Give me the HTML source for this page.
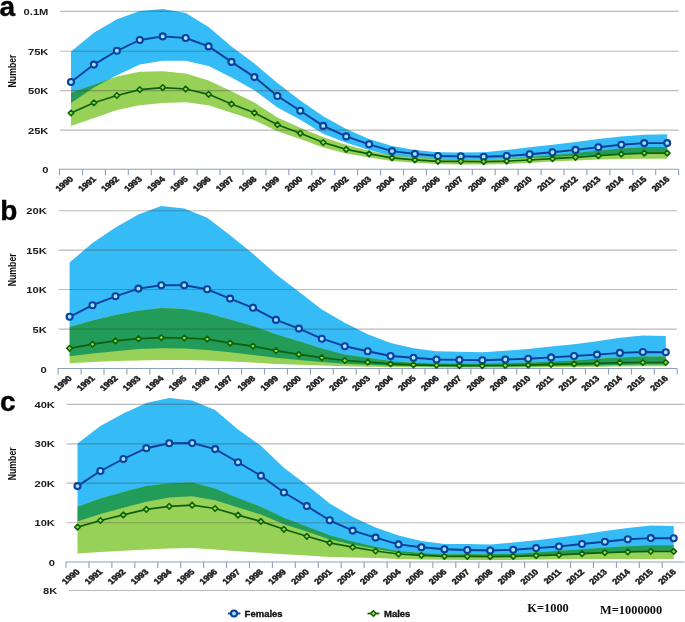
<!DOCTYPE html>
<html><head><meta charset="utf-8"><title>chart</title>
<style>
html,body{margin:0;padding:0;background:#fff;}
body{width:685px;height:622px;overflow:hidden;font-family:"Liberation Sans",sans-serif;}
svg{display:block;font-family:"Liberation Sans",sans-serif;}
.yl{font-size:9.8px;font-weight:bold;fill:#1c1c1c;text-anchor:end;}
.xl{font-size:7.8px;fill:#1a1a1a;text-anchor:end;font-weight:bold;stroke:#1a1a1a;stroke-width:0.45px;}
.num{font-size:10px;font-weight:bold;fill:#111;text-anchor:middle;}
.pl{font-size:28px;font-weight:bold;fill:#000;stroke:#000;stroke-width:0.4px;}
.lg{font-size:9.5px;font-weight:bold;fill:#0a0a0a;stroke:#0a0a0a;stroke-width:0.3px;}
.ser{font-family:"Liberation Serif",serif;font-size:12.4px;font-weight:bold;fill:#111;}
</style></head><body>
<svg width="685" height="622" viewBox="0 0 685 622">
<defs><filter id="bl" x="-2%" y="-2%" width="104%" height="104%"><feGaussianBlur stdDeviation="0.5"/></filter></defs>
<rect width="685" height="622" fill="#fff"/>
<g filter="url(#bl)">
<!-- panel a -->
<clipPath id="cpa"><polygon points="71.0,51.5 93.9,32.8 116.9,19.3 139.8,11.0 162.7,9.0 185.7,13.0 208.6,27.0 231.5,46.5 254.4,63.6 277.4,82.9 300.3,100.5 323.2,116.3 346.2,129.0 369.1,138.9 392.0,145.9 414.9,149.9 437.9,152.2 460.8,152.5 483.7,152.2 506.7,149.9 529.6,147.3 552.5,144.7 575.5,142.0 598.4,138.9 621.3,136.4 644.2,134.7 667.2,134.2 667.2,152.5 644.2,152.5 621.3,153.5 598.4,155.0 575.5,156.0 552.5,157.0 529.6,158.0 506.7,159.0 483.7,159.5 460.8,159.5 437.9,159.2 414.9,157.4 392.0,155.7 369.1,149.9 346.2,142.7 323.2,133.8 300.3,119.8 277.4,107.4 254.4,90.2 231.5,77.5 208.6,65.9 185.7,60.8 162.7,60.8 139.8,64.6 116.9,75.3 93.9,87.6 71.0,103.0"/></clipPath>
<polygon points="71.0,51.5 93.9,32.8 116.9,19.3 139.8,11.0 162.7,9.0 185.7,13.0 208.6,27.0 231.5,46.5 254.4,63.6 277.4,82.9 300.3,100.5 323.2,116.3 346.2,129.0 369.1,138.9 392.0,145.9 414.9,149.9 437.9,152.2 460.8,152.5 483.7,152.2 506.7,149.9 529.6,147.3 552.5,144.7 575.5,142.0 598.4,138.9 621.3,136.4 644.2,134.7 667.2,134.2 667.2,152.5 644.2,152.5 621.3,153.5 598.4,155.0 575.5,156.0 552.5,157.0 529.6,158.0 506.7,159.0 483.7,159.5 460.8,159.5 437.9,159.2 414.9,157.4 392.0,155.7 369.1,149.9 346.2,142.7 323.2,133.8 300.3,119.8 277.4,107.4 254.4,90.2 231.5,77.5 208.6,65.9 185.7,60.8 162.7,60.8 139.8,64.6 116.9,75.3 93.9,87.6 71.0,103.0" fill="#35bbf5"/>
<polygon points="71.0,92.8 93.9,84.7 116.9,76.5 139.8,71.8 162.7,71.2 185.7,73.5 208.6,80.6 231.5,91.2 254.4,102.6 277.4,117.5 300.3,127.7 323.2,137.3 346.2,144.7 369.1,150.8 392.0,155.2 414.9,157.4 437.9,158.7 460.8,159.2 483.7,159.2 506.7,158.7 529.6,157.2 552.5,155.0 575.5,153.0 598.4,150.5 621.3,148.5 644.2,147.0 667.2,147.0 667.2,158.7 644.2,158.7 621.3,159.0 598.4,159.6 575.5,160.4 552.5,161.6 529.6,163.0 506.7,163.9 483.7,164.4 460.8,164.4 437.9,163.9 414.9,162.7 392.0,160.9 369.1,157.4 346.2,153.4 323.2,147.4 300.3,139.0 277.4,131.2 254.4,120.3 231.5,112.7 208.6,105.3 185.7,102.3 162.7,103.0 139.8,105.3 116.9,110.0 93.9,118.0 71.0,126.0" fill="#98d158"/>
<polygon points="71.0,92.8 93.9,84.7 116.9,76.5 139.8,71.8 162.7,71.2 185.7,73.5 208.6,80.6 231.5,91.2 254.4,102.6 277.4,117.5 300.3,127.7 323.2,137.3 346.2,144.7 369.1,150.8 392.0,155.2 414.9,157.4 437.9,158.7 460.8,159.2 483.7,159.2 506.7,158.7 529.6,157.2 552.5,155.0 575.5,153.0 598.4,150.5 621.3,148.5 644.2,147.0 667.2,147.0 667.2,158.7 644.2,158.7 621.3,159.0 598.4,159.6 575.5,160.4 552.5,161.6 529.6,163.0 506.7,163.9 483.7,164.4 460.8,164.4 437.9,163.9 414.9,162.7 392.0,160.9 369.1,157.4 346.2,153.4 323.2,147.4 300.3,139.0 277.4,131.2 254.4,120.3 231.5,112.7 208.6,105.3 185.7,102.3 162.7,103.0 139.8,105.3 116.9,110.0 93.9,118.0 71.0,126.0" fill="#229c58" clip-path="url(#cpa)"/>
<line x1="60.1" x2="678.5" y1="11.4" y2="11.4" stroke="#4a4040" stroke-opacity="0.36" stroke-width="1.1"/>
<text class="yl" transform="translate(48.4,14.8) scale(1.14,1)">0.1M</text>
<line x1="60.1" x2="678.5" y1="51.3" y2="51.3" stroke="#4a4040" stroke-opacity="0.36" stroke-width="1.1"/>
<text class="yl" transform="translate(48.4,54.7) scale(1.14,1)">75K</text>
<line x1="60.1" x2="678.5" y1="90.6" y2="90.6" stroke="#4a4040" stroke-opacity="0.36" stroke-width="1.1"/>
<text class="yl" transform="translate(48.4,94.0) scale(1.14,1)">50K</text>
<line x1="60.1" x2="678.5" y1="130.1" y2="130.1" stroke="#4a4040" stroke-opacity="0.36" stroke-width="1.1"/>
<text class="yl" transform="translate(48.4,133.5) scale(1.14,1)">25K</text>
<text class="yl" transform="translate(48.4,173.2) scale(1.14,1)">0</text>
<line x1="59.0" x2="678.5" y1="169.2" y2="169.2" stroke="#8c9fbb" stroke-width="1.1"/>
<line x1="59.5" x2="59.5" y1="169.2" y2="175.2" stroke="#8c9fbb" stroke-width="1.1"/>
<line x1="82.5" x2="82.5" y1="169.2" y2="175.2" stroke="#8c9fbb" stroke-width="1.1"/>
<line x1="105.4" x2="105.4" y1="169.2" y2="175.2" stroke="#8c9fbb" stroke-width="1.1"/>
<line x1="128.3" x2="128.3" y1="169.2" y2="175.2" stroke="#8c9fbb" stroke-width="1.1"/>
<line x1="151.3" x2="151.3" y1="169.2" y2="175.2" stroke="#8c9fbb" stroke-width="1.1"/>
<line x1="174.2" x2="174.2" y1="169.2" y2="175.2" stroke="#8c9fbb" stroke-width="1.1"/>
<line x1="197.1" x2="197.1" y1="169.2" y2="175.2" stroke="#8c9fbb" stroke-width="1.1"/>
<line x1="220.0" x2="220.0" y1="169.2" y2="175.2" stroke="#8c9fbb" stroke-width="1.1"/>
<line x1="243.0" x2="243.0" y1="169.2" y2="175.2" stroke="#8c9fbb" stroke-width="1.1"/>
<line x1="265.9" x2="265.9" y1="169.2" y2="175.2" stroke="#8c9fbb" stroke-width="1.1"/>
<line x1="288.8" x2="288.8" y1="169.2" y2="175.2" stroke="#8c9fbb" stroke-width="1.1"/>
<line x1="311.8" x2="311.8" y1="169.2" y2="175.2" stroke="#8c9fbb" stroke-width="1.1"/>
<line x1="334.7" x2="334.7" y1="169.2" y2="175.2" stroke="#8c9fbb" stroke-width="1.1"/>
<line x1="357.6" x2="357.6" y1="169.2" y2="175.2" stroke="#8c9fbb" stroke-width="1.1"/>
<line x1="380.6" x2="380.6" y1="169.2" y2="175.2" stroke="#8c9fbb" stroke-width="1.1"/>
<line x1="403.5" x2="403.5" y1="169.2" y2="175.2" stroke="#8c9fbb" stroke-width="1.1"/>
<line x1="426.4" x2="426.4" y1="169.2" y2="175.2" stroke="#8c9fbb" stroke-width="1.1"/>
<line x1="449.3" x2="449.3" y1="169.2" y2="175.2" stroke="#8c9fbb" stroke-width="1.1"/>
<line x1="472.3" x2="472.3" y1="169.2" y2="175.2" stroke="#8c9fbb" stroke-width="1.1"/>
<line x1="495.2" x2="495.2" y1="169.2" y2="175.2" stroke="#8c9fbb" stroke-width="1.1"/>
<line x1="518.1" x2="518.1" y1="169.2" y2="175.2" stroke="#8c9fbb" stroke-width="1.1"/>
<line x1="541.1" x2="541.1" y1="169.2" y2="175.2" stroke="#8c9fbb" stroke-width="1.1"/>
<line x1="564.0" x2="564.0" y1="169.2" y2="175.2" stroke="#8c9fbb" stroke-width="1.1"/>
<line x1="586.9" x2="586.9" y1="169.2" y2="175.2" stroke="#8c9fbb" stroke-width="1.1"/>
<line x1="609.9" x2="609.9" y1="169.2" y2="175.2" stroke="#8c9fbb" stroke-width="1.1"/>
<line x1="632.8" x2="632.8" y1="169.2" y2="175.2" stroke="#8c9fbb" stroke-width="1.1"/>
<line x1="655.7" x2="655.7" y1="169.2" y2="175.2" stroke="#8c9fbb" stroke-width="1.1"/>
<line x1="678.6" x2="678.6" y1="169.2" y2="175.2" stroke="#8c9fbb" stroke-width="1.1"/>
<text class="xl" transform="translate(73.9,179.6) scale(1.2,1) rotate(-45)">1990</text>
<text class="xl" transform="translate(96.8,179.6) scale(1.2,1) rotate(-45)">1991</text>
<text class="xl" transform="translate(119.8,179.6) scale(1.2,1) rotate(-45)">1992</text>
<text class="xl" transform="translate(142.7,179.6) scale(1.2,1) rotate(-45)">1993</text>
<text class="xl" transform="translate(165.6,179.6) scale(1.2,1) rotate(-45)">1994</text>
<text class="xl" transform="translate(188.6,179.6) scale(1.2,1) rotate(-45)">1995</text>
<text class="xl" transform="translate(211.5,179.6) scale(1.2,1) rotate(-45)">1996</text>
<text class="xl" transform="translate(234.4,179.6) scale(1.2,1) rotate(-45)">1997</text>
<text class="xl" transform="translate(257.3,179.6) scale(1.2,1) rotate(-45)">1998</text>
<text class="xl" transform="translate(280.3,179.6) scale(1.2,1) rotate(-45)">1999</text>
<text class="xl" transform="translate(303.2,179.6) scale(1.2,1) rotate(-45)">2000</text>
<text class="xl" transform="translate(326.1,179.6) scale(1.2,1) rotate(-45)">2001</text>
<text class="xl" transform="translate(349.1,179.6) scale(1.2,1) rotate(-45)">2002</text>
<text class="xl" transform="translate(372.0,179.6) scale(1.2,1) rotate(-45)">2003</text>
<text class="xl" transform="translate(394.9,179.6) scale(1.2,1) rotate(-45)">2004</text>
<text class="xl" transform="translate(417.8,179.6) scale(1.2,1) rotate(-45)">2005</text>
<text class="xl" transform="translate(440.8,179.6) scale(1.2,1) rotate(-45)">2006</text>
<text class="xl" transform="translate(463.7,179.6) scale(1.2,1) rotate(-45)">2007</text>
<text class="xl" transform="translate(486.6,179.6) scale(1.2,1) rotate(-45)">2008</text>
<text class="xl" transform="translate(509.6,179.6) scale(1.2,1) rotate(-45)">2009</text>
<text class="xl" transform="translate(532.5,179.6) scale(1.2,1) rotate(-45)">2010</text>
<text class="xl" transform="translate(555.4,179.6) scale(1.2,1) rotate(-45)">2011</text>
<text class="xl" transform="translate(578.4,179.6) scale(1.2,1) rotate(-45)">2012</text>
<text class="xl" transform="translate(601.3,179.6) scale(1.2,1) rotate(-45)">2013</text>
<text class="xl" transform="translate(624.2,179.6) scale(1.2,1) rotate(-45)">2014</text>
<text class="xl" transform="translate(647.1,179.6) scale(1.2,1) rotate(-45)">2015</text>
<text class="xl" transform="translate(670.1,179.6) scale(1.2,1) rotate(-45)">2016</text>
<polyline points="71.0,82.0 93.9,64.6 116.9,50.8 139.8,40.0 162.7,36.4 185.7,38.0 208.6,46.4 231.5,61.9 254.4,77.1 277.4,96.0 300.3,110.7 323.2,125.9 346.2,136.4 369.1,144.3 392.0,151.1 414.9,153.9 437.9,156.0 460.8,156.4 483.7,156.7 506.7,156.0 529.6,154.3 552.5,152.2 575.5,149.9 598.4,147.3 621.3,144.7 644.2,143.1 667.2,143.1" fill="none" stroke="#0a3f9c" stroke-width="1.9" stroke-linejoin="round"/>
<circle cx="71.0" cy="82.0" r="3.0" fill="#a0e8ff" stroke="#0a3f9c" stroke-width="2.1"/>
<circle cx="93.9" cy="64.6" r="3.0" fill="#a0e8ff" stroke="#0a3f9c" stroke-width="2.1"/>
<circle cx="116.9" cy="50.8" r="3.0" fill="#a0e8ff" stroke="#0a3f9c" stroke-width="2.1"/>
<circle cx="139.8" cy="40.0" r="3.0" fill="#a0e8ff" stroke="#0a3f9c" stroke-width="2.1"/>
<circle cx="162.7" cy="36.4" r="3.0" fill="#a0e8ff" stroke="#0a3f9c" stroke-width="2.1"/>
<circle cx="185.7" cy="38.0" r="3.0" fill="#a0e8ff" stroke="#0a3f9c" stroke-width="2.1"/>
<circle cx="208.6" cy="46.4" r="3.0" fill="#a0e8ff" stroke="#0a3f9c" stroke-width="2.1"/>
<circle cx="231.5" cy="61.9" r="3.0" fill="#a0e8ff" stroke="#0a3f9c" stroke-width="2.1"/>
<circle cx="254.4" cy="77.1" r="3.0" fill="#a0e8ff" stroke="#0a3f9c" stroke-width="2.1"/>
<circle cx="277.4" cy="96.0" r="3.0" fill="#a0e8ff" stroke="#0a3f9c" stroke-width="2.1"/>
<circle cx="300.3" cy="110.7" r="3.0" fill="#a0e8ff" stroke="#0a3f9c" stroke-width="2.1"/>
<circle cx="323.2" cy="125.9" r="3.0" fill="#a0e8ff" stroke="#0a3f9c" stroke-width="2.1"/>
<circle cx="346.2" cy="136.4" r="3.0" fill="#a0e8ff" stroke="#0a3f9c" stroke-width="2.1"/>
<circle cx="369.1" cy="144.3" r="3.0" fill="#a0e8ff" stroke="#0a3f9c" stroke-width="2.1"/>
<circle cx="392.0" cy="151.1" r="3.0" fill="#a0e8ff" stroke="#0a3f9c" stroke-width="2.1"/>
<circle cx="414.9" cy="153.9" r="3.0" fill="#a0e8ff" stroke="#0a3f9c" stroke-width="2.1"/>
<circle cx="437.9" cy="156.0" r="3.0" fill="#a0e8ff" stroke="#0a3f9c" stroke-width="2.1"/>
<circle cx="460.8" cy="156.4" r="3.0" fill="#a0e8ff" stroke="#0a3f9c" stroke-width="2.1"/>
<circle cx="483.7" cy="156.7" r="3.0" fill="#a0e8ff" stroke="#0a3f9c" stroke-width="2.1"/>
<circle cx="506.7" cy="156.0" r="3.0" fill="#a0e8ff" stroke="#0a3f9c" stroke-width="2.1"/>
<circle cx="529.6" cy="154.3" r="3.0" fill="#a0e8ff" stroke="#0a3f9c" stroke-width="2.1"/>
<circle cx="552.5" cy="152.2" r="3.0" fill="#a0e8ff" stroke="#0a3f9c" stroke-width="2.1"/>
<circle cx="575.5" cy="149.9" r="3.0" fill="#a0e8ff" stroke="#0a3f9c" stroke-width="2.1"/>
<circle cx="598.4" cy="147.3" r="3.0" fill="#a0e8ff" stroke="#0a3f9c" stroke-width="2.1"/>
<circle cx="621.3" cy="144.7" r="3.0" fill="#a0e8ff" stroke="#0a3f9c" stroke-width="2.1"/>
<circle cx="644.2" cy="143.1" r="3.0" fill="#a0e8ff" stroke="#0a3f9c" stroke-width="2.1"/>
<circle cx="667.2" cy="143.1" r="3.0" fill="#a0e8ff" stroke="#0a3f9c" stroke-width="2.1"/>
<polyline points="71.0,113.0 93.9,102.8 116.9,95.5 139.8,89.6 162.7,87.6 185.7,89.0 208.6,94.3 231.5,104.0 254.4,112.8 277.4,124.7 300.3,133.3 323.2,142.5 346.2,149.4 369.1,153.9 392.0,157.8 414.9,159.9 437.9,161.3 460.8,161.3 483.7,161.6 506.7,161.1 529.6,160.0 552.5,158.7 575.5,157.3 598.4,155.7 621.3,154.1 644.2,153.1 667.2,153.1" fill="none" stroke="#10600a" stroke-width="1.7" stroke-linejoin="round"/>
<polygon points="68.2,113.0 71.0,110.2 73.8,113.0 71.0,115.8" fill="#8fe238" stroke="#10600a" stroke-width="1.6" stroke-linejoin="round"/>
<polygon points="91.1,102.8 93.9,100.0 96.7,102.8 93.9,105.6" fill="#8fe238" stroke="#10600a" stroke-width="1.6" stroke-linejoin="round"/>
<polygon points="114.1,95.5 116.9,92.7 119.7,95.5 116.9,98.3" fill="#8fe238" stroke="#10600a" stroke-width="1.6" stroke-linejoin="round"/>
<polygon points="137.0,89.6 139.8,86.8 142.6,89.6 139.8,92.4" fill="#8fe238" stroke="#10600a" stroke-width="1.6" stroke-linejoin="round"/>
<polygon points="159.9,87.6 162.7,84.8 165.5,87.6 162.7,90.4" fill="#8fe238" stroke="#10600a" stroke-width="1.6" stroke-linejoin="round"/>
<polygon points="182.8,89.0 185.7,86.2 188.5,89.0 185.7,91.8" fill="#8fe238" stroke="#10600a" stroke-width="1.6" stroke-linejoin="round"/>
<polygon points="205.8,94.3 208.6,91.5 211.4,94.3 208.6,97.1" fill="#8fe238" stroke="#10600a" stroke-width="1.6" stroke-linejoin="round"/>
<polygon points="228.7,104.0 231.5,101.2 234.3,104.0 231.5,106.8" fill="#8fe238" stroke="#10600a" stroke-width="1.6" stroke-linejoin="round"/>
<polygon points="251.6,112.8 254.4,110.0 257.2,112.8 254.4,115.6" fill="#8fe238" stroke="#10600a" stroke-width="1.6" stroke-linejoin="round"/>
<polygon points="274.6,124.7 277.4,121.9 280.2,124.7 277.4,127.5" fill="#8fe238" stroke="#10600a" stroke-width="1.6" stroke-linejoin="round"/>
<polygon points="297.5,133.3 300.3,130.5 303.1,133.3 300.3,136.1" fill="#8fe238" stroke="#10600a" stroke-width="1.6" stroke-linejoin="round"/>
<polygon points="320.4,142.5 323.2,139.7 326.0,142.5 323.2,145.3" fill="#8fe238" stroke="#10600a" stroke-width="1.6" stroke-linejoin="round"/>
<polygon points="343.4,149.4 346.2,146.6 349.0,149.4 346.2,152.2" fill="#8fe238" stroke="#10600a" stroke-width="1.6" stroke-linejoin="round"/>
<polygon points="366.3,153.9 369.1,151.1 371.9,153.9 369.1,156.7" fill="#8fe238" stroke="#10600a" stroke-width="1.6" stroke-linejoin="round"/>
<polygon points="389.2,157.8 392.0,155.0 394.8,157.8 392.0,160.6" fill="#8fe238" stroke="#10600a" stroke-width="1.6" stroke-linejoin="round"/>
<polygon points="412.1,159.9 414.9,157.1 417.8,159.9 414.9,162.7" fill="#8fe238" stroke="#10600a" stroke-width="1.6" stroke-linejoin="round"/>
<polygon points="435.1,161.3 437.9,158.5 440.7,161.3 437.9,164.1" fill="#8fe238" stroke="#10600a" stroke-width="1.6" stroke-linejoin="round"/>
<polygon points="458.0,161.3 460.8,158.5 463.6,161.3 460.8,164.1" fill="#8fe238" stroke="#10600a" stroke-width="1.6" stroke-linejoin="round"/>
<polygon points="480.9,161.6 483.7,158.8 486.5,161.6 483.7,164.4" fill="#8fe238" stroke="#10600a" stroke-width="1.6" stroke-linejoin="round"/>
<polygon points="503.9,161.1 506.7,158.3 509.5,161.1 506.7,163.9" fill="#8fe238" stroke="#10600a" stroke-width="1.6" stroke-linejoin="round"/>
<polygon points="526.8,160.0 529.6,157.2 532.4,160.0 529.6,162.8" fill="#8fe238" stroke="#10600a" stroke-width="1.6" stroke-linejoin="round"/>
<polygon points="549.7,158.7 552.5,155.9 555.3,158.7 552.5,161.5" fill="#8fe238" stroke="#10600a" stroke-width="1.6" stroke-linejoin="round"/>
<polygon points="572.7,157.3 575.5,154.5 578.3,157.3 575.5,160.1" fill="#8fe238" stroke="#10600a" stroke-width="1.6" stroke-linejoin="round"/>
<polygon points="595.6,155.7 598.4,152.9 601.2,155.7 598.4,158.5" fill="#8fe238" stroke="#10600a" stroke-width="1.6" stroke-linejoin="round"/>
<polygon points="618.5,154.1 621.3,151.3 624.1,154.1 621.3,156.9" fill="#8fe238" stroke="#10600a" stroke-width="1.6" stroke-linejoin="round"/>
<polygon points="641.5,153.1 644.2,150.3 647.0,153.1 644.2,155.9" fill="#8fe238" stroke="#10600a" stroke-width="1.6" stroke-linejoin="round"/>
<polygon points="664.4,153.1 667.2,150.3 670.0,153.1 667.2,155.9" fill="#8fe238" stroke="#10600a" stroke-width="1.6" stroke-linejoin="round"/>
<text class="pl" x="-0.5" y="16.2">a</text>
<text class="num" transform="translate(15.6,71) rotate(-90) scale(0.87,1)">Number</text>
<!-- panel b -->
<clipPath id="cpb"><polygon points="69.6,262.6 92.5,242.9 115.5,227.6 138.4,214.4 161.3,206.1 184.2,208.5 207.2,217.7 230.1,235.2 253.0,253.8 276.0,274.2 298.9,291.8 321.8,309.6 344.8,322.8 367.7,334.2 390.6,342.9 413.5,348.2 436.5,351.3 459.4,351.7 482.3,352.2 505.3,350.8 528.2,349.0 551.1,346.4 574.1,344.3 597.0,341.2 619.9,337.7 642.9,335.6 665.8,335.9 665.8,364.4 642.9,364.6 619.9,365.0 597.0,365.4 574.1,365.7 551.1,366.0 528.2,366.3 505.3,366.5 482.3,366.5 459.4,366.5 436.5,366.5 413.5,366.2 390.6,365.7 367.7,364.8 344.8,363.8 321.8,362.1 298.9,359.9 276.0,357.7 253.0,354.9 230.1,352.3 207.2,350.0 184.2,348.5 161.3,348.3 138.4,349.0 115.5,351.2 92.5,353.4 69.6,356.2"/></clipPath>
<polygon points="69.6,262.6 92.5,242.9 115.5,227.6 138.4,214.4 161.3,206.1 184.2,208.5 207.2,217.7 230.1,235.2 253.0,253.8 276.0,274.2 298.9,291.8 321.8,309.6 344.8,322.8 367.7,334.2 390.6,342.9 413.5,348.2 436.5,351.3 459.4,351.7 482.3,352.2 505.3,350.8 528.2,349.0 551.1,346.4 574.1,344.3 597.0,341.2 619.9,337.7 642.9,335.6 665.8,335.9 665.8,364.4 642.9,364.6 619.9,365.0 597.0,365.4 574.1,365.7 551.1,366.0 528.2,366.3 505.3,366.5 482.3,366.5 459.4,366.5 436.5,366.5 413.5,366.2 390.6,365.7 367.7,364.8 344.8,363.8 321.8,362.1 298.9,359.9 276.0,357.7 253.0,354.9 230.1,352.3 207.2,350.0 184.2,348.5 161.3,348.3 138.4,349.0 115.5,351.2 92.5,353.4 69.6,356.2" fill="#35bbf5"/>
<polygon points="69.6,327.1 92.5,320.5 115.5,315.0 138.4,310.7 161.3,308.0 184.2,309.1 207.2,313.3 230.1,319.4 253.0,326.0 276.0,334.3 298.9,341.3 321.8,348.5 344.8,354.4 367.7,357.8 390.6,361.0 413.5,362.7 436.5,363.4 459.4,363.4 482.3,363.4 505.3,363.2 528.2,362.6 551.1,361.6 574.1,360.4 597.0,358.7 619.9,357.4 642.9,356.4 665.8,356.4 665.8,366.2 642.9,366.3 619.9,366.5 597.0,366.7 574.1,366.9 551.1,367.3 528.2,367.6 505.3,367.8 482.3,367.8 459.4,367.8 436.5,367.6 413.5,367.3 390.6,367.0 367.7,366.7 344.8,366.3 321.8,365.6 298.9,364.7 276.0,363.9 253.0,362.5 230.1,361.5 207.2,360.6 184.2,359.9 161.3,359.9 138.4,360.4 115.5,361.0 92.5,362.1 69.6,363.2" fill="#98d158"/>
<polygon points="69.6,327.1 92.5,320.5 115.5,315.0 138.4,310.7 161.3,308.0 184.2,309.1 207.2,313.3 230.1,319.4 253.0,326.0 276.0,334.3 298.9,341.3 321.8,348.5 344.8,354.4 367.7,357.8 390.6,361.0 413.5,362.7 436.5,363.4 459.4,363.4 482.3,363.4 505.3,363.2 528.2,362.6 551.1,361.6 574.1,360.4 597.0,358.7 619.9,357.4 642.9,356.4 665.8,356.4 665.8,366.2 642.9,366.3 619.9,366.5 597.0,366.7 574.1,366.9 551.1,367.3 528.2,367.6 505.3,367.8 482.3,367.8 459.4,367.8 436.5,367.6 413.5,367.3 390.6,367.0 367.7,366.7 344.8,366.3 321.8,365.6 298.9,364.7 276.0,363.9 253.0,362.5 230.1,361.5 207.2,360.6 184.2,359.9 161.3,359.9 138.4,360.4 115.5,361.0 92.5,362.1 69.6,363.2" fill="#229c58" clip-path="url(#cpb)"/>
<line x1="58.5" x2="677" y1="210.7" y2="210.7" stroke="#4a4040" stroke-opacity="0.36" stroke-width="1.1"/>
<text class="yl" transform="translate(46.8,214.1) scale(1.14,1)">20K</text>
<line x1="58.5" x2="677" y1="250.1" y2="250.1" stroke="#4a4040" stroke-opacity="0.36" stroke-width="1.1"/>
<text class="yl" transform="translate(46.8,253.5) scale(1.14,1)">15K</text>
<line x1="58.5" x2="677" y1="289.5" y2="289.5" stroke="#4a4040" stroke-opacity="0.36" stroke-width="1.1"/>
<text class="yl" transform="translate(46.8,292.9) scale(1.14,1)">10K</text>
<line x1="58.5" x2="677" y1="329.1" y2="329.1" stroke="#4a4040" stroke-opacity="0.36" stroke-width="1.1"/>
<text class="yl" transform="translate(46.8,332.5) scale(1.14,1)">5K</text>
<text class="yl" transform="translate(46.8,372.5) scale(1.14,1)">0</text>
<line x1="57.6" x2="677" y1="368.5" y2="368.5" stroke="#8c9fbb" stroke-width="1.1"/>
<line x1="58.1" x2="58.1" y1="368.5" y2="374.5" stroke="#8c9fbb" stroke-width="1.1"/>
<line x1="81.1" x2="81.1" y1="368.5" y2="374.5" stroke="#8c9fbb" stroke-width="1.1"/>
<line x1="104.0" x2="104.0" y1="368.5" y2="374.5" stroke="#8c9fbb" stroke-width="1.1"/>
<line x1="126.9" x2="126.9" y1="368.5" y2="374.5" stroke="#8c9fbb" stroke-width="1.1"/>
<line x1="149.9" x2="149.9" y1="368.5" y2="374.5" stroke="#8c9fbb" stroke-width="1.1"/>
<line x1="172.8" x2="172.8" y1="368.5" y2="374.5" stroke="#8c9fbb" stroke-width="1.1"/>
<line x1="195.7" x2="195.7" y1="368.5" y2="374.5" stroke="#8c9fbb" stroke-width="1.1"/>
<line x1="218.6" x2="218.6" y1="368.5" y2="374.5" stroke="#8c9fbb" stroke-width="1.1"/>
<line x1="241.6" x2="241.6" y1="368.5" y2="374.5" stroke="#8c9fbb" stroke-width="1.1"/>
<line x1="264.5" x2="264.5" y1="368.5" y2="374.5" stroke="#8c9fbb" stroke-width="1.1"/>
<line x1="287.4" x2="287.4" y1="368.5" y2="374.5" stroke="#8c9fbb" stroke-width="1.1"/>
<line x1="310.4" x2="310.4" y1="368.5" y2="374.5" stroke="#8c9fbb" stroke-width="1.1"/>
<line x1="333.3" x2="333.3" y1="368.5" y2="374.5" stroke="#8c9fbb" stroke-width="1.1"/>
<line x1="356.2" x2="356.2" y1="368.5" y2="374.5" stroke="#8c9fbb" stroke-width="1.1"/>
<line x1="379.2" x2="379.2" y1="368.5" y2="374.5" stroke="#8c9fbb" stroke-width="1.1"/>
<line x1="402.1" x2="402.1" y1="368.5" y2="374.5" stroke="#8c9fbb" stroke-width="1.1"/>
<line x1="425.0" x2="425.0" y1="368.5" y2="374.5" stroke="#8c9fbb" stroke-width="1.1"/>
<line x1="447.9" x2="447.9" y1="368.5" y2="374.5" stroke="#8c9fbb" stroke-width="1.1"/>
<line x1="470.9" x2="470.9" y1="368.5" y2="374.5" stroke="#8c9fbb" stroke-width="1.1"/>
<line x1="493.8" x2="493.8" y1="368.5" y2="374.5" stroke="#8c9fbb" stroke-width="1.1"/>
<line x1="516.7" x2="516.7" y1="368.5" y2="374.5" stroke="#8c9fbb" stroke-width="1.1"/>
<line x1="539.7" x2="539.7" y1="368.5" y2="374.5" stroke="#8c9fbb" stroke-width="1.1"/>
<line x1="562.6" x2="562.6" y1="368.5" y2="374.5" stroke="#8c9fbb" stroke-width="1.1"/>
<line x1="585.5" x2="585.5" y1="368.5" y2="374.5" stroke="#8c9fbb" stroke-width="1.1"/>
<line x1="608.5" x2="608.5" y1="368.5" y2="374.5" stroke="#8c9fbb" stroke-width="1.1"/>
<line x1="631.4" x2="631.4" y1="368.5" y2="374.5" stroke="#8c9fbb" stroke-width="1.1"/>
<line x1="654.3" x2="654.3" y1="368.5" y2="374.5" stroke="#8c9fbb" stroke-width="1.1"/>
<line x1="677.2" x2="677.2" y1="368.5" y2="374.5" stroke="#8c9fbb" stroke-width="1.1"/>
<text class="xl" transform="translate(72.5,378.9) scale(1.2,1) rotate(-45)">1990</text>
<text class="xl" transform="translate(95.4,378.9) scale(1.2,1) rotate(-45)">1991</text>
<text class="xl" transform="translate(118.4,378.9) scale(1.2,1) rotate(-45)">1992</text>
<text class="xl" transform="translate(141.3,378.9) scale(1.2,1) rotate(-45)">1993</text>
<text class="xl" transform="translate(164.2,378.9) scale(1.2,1) rotate(-45)">1994</text>
<text class="xl" transform="translate(187.2,378.9) scale(1.2,1) rotate(-45)">1995</text>
<text class="xl" transform="translate(210.1,378.9) scale(1.2,1) rotate(-45)">1996</text>
<text class="xl" transform="translate(233.0,378.9) scale(1.2,1) rotate(-45)">1997</text>
<text class="xl" transform="translate(255.9,378.9) scale(1.2,1) rotate(-45)">1998</text>
<text class="xl" transform="translate(278.9,378.9) scale(1.2,1) rotate(-45)">1999</text>
<text class="xl" transform="translate(301.8,378.9) scale(1.2,1) rotate(-45)">2000</text>
<text class="xl" transform="translate(324.7,378.9) scale(1.2,1) rotate(-45)">2001</text>
<text class="xl" transform="translate(347.7,378.9) scale(1.2,1) rotate(-45)">2002</text>
<text class="xl" transform="translate(370.6,378.9) scale(1.2,1) rotate(-45)">2003</text>
<text class="xl" transform="translate(393.5,378.9) scale(1.2,1) rotate(-45)">2004</text>
<text class="xl" transform="translate(416.4,378.9) scale(1.2,1) rotate(-45)">2005</text>
<text class="xl" transform="translate(439.4,378.9) scale(1.2,1) rotate(-45)">2006</text>
<text class="xl" transform="translate(462.3,378.9) scale(1.2,1) rotate(-45)">2007</text>
<text class="xl" transform="translate(485.2,378.9) scale(1.2,1) rotate(-45)">2008</text>
<text class="xl" transform="translate(508.2,378.9) scale(1.2,1) rotate(-45)">2009</text>
<text class="xl" transform="translate(531.1,378.9) scale(1.2,1) rotate(-45)">2010</text>
<text class="xl" transform="translate(554.0,378.9) scale(1.2,1) rotate(-45)">2011</text>
<text class="xl" transform="translate(577.0,378.9) scale(1.2,1) rotate(-45)">2012</text>
<text class="xl" transform="translate(599.9,378.9) scale(1.2,1) rotate(-45)">2013</text>
<text class="xl" transform="translate(622.8,378.9) scale(1.2,1) rotate(-45)">2014</text>
<text class="xl" transform="translate(645.8,378.9) scale(1.2,1) rotate(-45)">2015</text>
<text class="xl" transform="translate(668.7,378.9) scale(1.2,1) rotate(-45)">2016</text>
<polyline points="69.6,316.8 92.5,305.2 115.5,296.3 138.4,288.6 161.3,285.2 184.2,285.2 207.2,289.3 230.1,298.6 253.0,307.8 276.0,319.9 298.9,328.6 321.8,338.7 344.8,346.2 367.7,351.3 390.6,356.0 413.5,357.8 436.5,359.5 459.4,359.9 482.3,360.2 505.3,359.5 528.2,358.7 551.1,357.4 574.1,356.0 597.0,354.6 619.9,352.9 642.9,352.0 665.8,352.2" fill="none" stroke="#0a3f9c" stroke-width="1.9" stroke-linejoin="round"/>
<circle cx="69.6" cy="316.8" r="3.0" fill="#a0e8ff" stroke="#0a3f9c" stroke-width="2.1"/>
<circle cx="92.5" cy="305.2" r="3.0" fill="#a0e8ff" stroke="#0a3f9c" stroke-width="2.1"/>
<circle cx="115.5" cy="296.3" r="3.0" fill="#a0e8ff" stroke="#0a3f9c" stroke-width="2.1"/>
<circle cx="138.4" cy="288.6" r="3.0" fill="#a0e8ff" stroke="#0a3f9c" stroke-width="2.1"/>
<circle cx="161.3" cy="285.2" r="3.0" fill="#a0e8ff" stroke="#0a3f9c" stroke-width="2.1"/>
<circle cx="184.2" cy="285.2" r="3.0" fill="#a0e8ff" stroke="#0a3f9c" stroke-width="2.1"/>
<circle cx="207.2" cy="289.3" r="3.0" fill="#a0e8ff" stroke="#0a3f9c" stroke-width="2.1"/>
<circle cx="230.1" cy="298.6" r="3.0" fill="#a0e8ff" stroke="#0a3f9c" stroke-width="2.1"/>
<circle cx="253.0" cy="307.8" r="3.0" fill="#a0e8ff" stroke="#0a3f9c" stroke-width="2.1"/>
<circle cx="276.0" cy="319.9" r="3.0" fill="#a0e8ff" stroke="#0a3f9c" stroke-width="2.1"/>
<circle cx="298.9" cy="328.6" r="3.0" fill="#a0e8ff" stroke="#0a3f9c" stroke-width="2.1"/>
<circle cx="321.8" cy="338.7" r="3.0" fill="#a0e8ff" stroke="#0a3f9c" stroke-width="2.1"/>
<circle cx="344.8" cy="346.2" r="3.0" fill="#a0e8ff" stroke="#0a3f9c" stroke-width="2.1"/>
<circle cx="367.7" cy="351.3" r="3.0" fill="#a0e8ff" stroke="#0a3f9c" stroke-width="2.1"/>
<circle cx="390.6" cy="356.0" r="3.0" fill="#a0e8ff" stroke="#0a3f9c" stroke-width="2.1"/>
<circle cx="413.5" cy="357.8" r="3.0" fill="#a0e8ff" stroke="#0a3f9c" stroke-width="2.1"/>
<circle cx="436.5" cy="359.5" r="3.0" fill="#a0e8ff" stroke="#0a3f9c" stroke-width="2.1"/>
<circle cx="459.4" cy="359.9" r="3.0" fill="#a0e8ff" stroke="#0a3f9c" stroke-width="2.1"/>
<circle cx="482.3" cy="360.2" r="3.0" fill="#a0e8ff" stroke="#0a3f9c" stroke-width="2.1"/>
<circle cx="505.3" cy="359.5" r="3.0" fill="#a0e8ff" stroke="#0a3f9c" stroke-width="2.1"/>
<circle cx="528.2" cy="358.7" r="3.0" fill="#a0e8ff" stroke="#0a3f9c" stroke-width="2.1"/>
<circle cx="551.1" cy="357.4" r="3.0" fill="#a0e8ff" stroke="#0a3f9c" stroke-width="2.1"/>
<circle cx="574.1" cy="356.0" r="3.0" fill="#a0e8ff" stroke="#0a3f9c" stroke-width="2.1"/>
<circle cx="597.0" cy="354.6" r="3.0" fill="#a0e8ff" stroke="#0a3f9c" stroke-width="2.1"/>
<circle cx="619.9" cy="352.9" r="3.0" fill="#a0e8ff" stroke="#0a3f9c" stroke-width="2.1"/>
<circle cx="642.9" cy="352.0" r="3.0" fill="#a0e8ff" stroke="#0a3f9c" stroke-width="2.1"/>
<circle cx="665.8" cy="352.2" r="3.0" fill="#a0e8ff" stroke="#0a3f9c" stroke-width="2.1"/>
<polyline points="69.6,348.3 92.5,344.2 115.5,340.9 138.4,338.7 161.3,337.6 184.2,338.0 207.2,339.1 230.1,343.1 253.0,346.1 276.0,350.7 298.9,354.4 321.8,357.7 344.8,360.5 367.7,362.2 390.6,363.9 413.5,364.8 436.5,365.3 459.4,365.7 482.3,365.7 505.3,365.5 528.2,365.1 551.1,364.4 574.1,363.9 597.0,363.4 619.9,362.7 642.9,362.5 665.8,362.5" fill="none" stroke="#10600a" stroke-width="1.7" stroke-linejoin="round"/>
<polygon points="66.8,348.3 69.6,345.5 72.4,348.3 69.6,351.1" fill="#8fe238" stroke="#10600a" stroke-width="1.6" stroke-linejoin="round"/>
<polygon points="89.7,344.2 92.5,341.4 95.3,344.2 92.5,347.0" fill="#8fe238" stroke="#10600a" stroke-width="1.6" stroke-linejoin="round"/>
<polygon points="112.7,340.9 115.5,338.1 118.3,340.9 115.5,343.7" fill="#8fe238" stroke="#10600a" stroke-width="1.6" stroke-linejoin="round"/>
<polygon points="135.6,338.7 138.4,335.9 141.2,338.7 138.4,341.5" fill="#8fe238" stroke="#10600a" stroke-width="1.6" stroke-linejoin="round"/>
<polygon points="158.5,337.6 161.3,334.8 164.1,337.6 161.3,340.4" fill="#8fe238" stroke="#10600a" stroke-width="1.6" stroke-linejoin="round"/>
<polygon points="181.4,338.0 184.2,335.2 187.1,338.0 184.2,340.8" fill="#8fe238" stroke="#10600a" stroke-width="1.6" stroke-linejoin="round"/>
<polygon points="204.4,339.1 207.2,336.3 210.0,339.1 207.2,341.9" fill="#8fe238" stroke="#10600a" stroke-width="1.6" stroke-linejoin="round"/>
<polygon points="227.3,343.1 230.1,340.3 232.9,343.1 230.1,345.9" fill="#8fe238" stroke="#10600a" stroke-width="1.6" stroke-linejoin="round"/>
<polygon points="250.2,346.1 253.0,343.3 255.8,346.1 253.0,348.9" fill="#8fe238" stroke="#10600a" stroke-width="1.6" stroke-linejoin="round"/>
<polygon points="273.2,350.7 276.0,347.9 278.8,350.7 276.0,353.5" fill="#8fe238" stroke="#10600a" stroke-width="1.6" stroke-linejoin="round"/>
<polygon points="296.1,354.4 298.9,351.6 301.7,354.4 298.9,357.2" fill="#8fe238" stroke="#10600a" stroke-width="1.6" stroke-linejoin="round"/>
<polygon points="319.0,357.7 321.8,354.9 324.6,357.7 321.8,360.5" fill="#8fe238" stroke="#10600a" stroke-width="1.6" stroke-linejoin="round"/>
<polygon points="342.0,360.5 344.8,357.7 347.6,360.5 344.8,363.3" fill="#8fe238" stroke="#10600a" stroke-width="1.6" stroke-linejoin="round"/>
<polygon points="364.9,362.2 367.7,359.4 370.5,362.2 367.7,365.0" fill="#8fe238" stroke="#10600a" stroke-width="1.6" stroke-linejoin="round"/>
<polygon points="387.8,363.9 390.6,361.1 393.4,363.9 390.6,366.7" fill="#8fe238" stroke="#10600a" stroke-width="1.6" stroke-linejoin="round"/>
<polygon points="410.7,364.8 413.5,362.0 416.3,364.8 413.5,367.6" fill="#8fe238" stroke="#10600a" stroke-width="1.6" stroke-linejoin="round"/>
<polygon points="433.7,365.3 436.5,362.5 439.3,365.3 436.5,368.1" fill="#8fe238" stroke="#10600a" stroke-width="1.6" stroke-linejoin="round"/>
<polygon points="456.6,365.7 459.4,362.9 462.2,365.7 459.4,368.5" fill="#8fe238" stroke="#10600a" stroke-width="1.6" stroke-linejoin="round"/>
<polygon points="479.5,365.7 482.3,362.9 485.1,365.7 482.3,368.5" fill="#8fe238" stroke="#10600a" stroke-width="1.6" stroke-linejoin="round"/>
<polygon points="502.5,365.5 505.3,362.7 508.1,365.5 505.3,368.3" fill="#8fe238" stroke="#10600a" stroke-width="1.6" stroke-linejoin="round"/>
<polygon points="525.4,365.1 528.2,362.3 531.0,365.1 528.2,367.9" fill="#8fe238" stroke="#10600a" stroke-width="1.6" stroke-linejoin="round"/>
<polygon points="548.3,364.4 551.1,361.6 553.9,364.4 551.1,367.2" fill="#8fe238" stroke="#10600a" stroke-width="1.6" stroke-linejoin="round"/>
<polygon points="571.3,363.9 574.1,361.1 576.9,363.9 574.1,366.7" fill="#8fe238" stroke="#10600a" stroke-width="1.6" stroke-linejoin="round"/>
<polygon points="594.2,363.4 597.0,360.6 599.8,363.4 597.0,366.2" fill="#8fe238" stroke="#10600a" stroke-width="1.6" stroke-linejoin="round"/>
<polygon points="617.1,362.7 619.9,359.9 622.7,362.7 619.9,365.5" fill="#8fe238" stroke="#10600a" stroke-width="1.6" stroke-linejoin="round"/>
<polygon points="640.1,362.5 642.9,359.7 645.6,362.5 642.9,365.3" fill="#8fe238" stroke="#10600a" stroke-width="1.6" stroke-linejoin="round"/>
<polygon points="663.0,362.5 665.8,359.7 668.6,362.5 665.8,365.3" fill="#8fe238" stroke="#10600a" stroke-width="1.6" stroke-linejoin="round"/>
<text class="pl" x="0.2" y="220.4">b</text>
<text class="num" transform="translate(15.6,269.8) rotate(-90) scale(0.87,1)">Number</text>
<!-- panel c -->
<clipPath id="cpc"><polygon points="77.5,443.6 100.4,426.1 123.4,413.6 146.3,403.1 169.2,398.1 192.2,400.5 215.1,410.1 238.0,429.4 260.9,445.8 283.9,467.7 306.8,485.0 329.7,503.5 352.7,517.0 375.6,527.4 398.5,535.6 421.4,540.9 444.4,544.0 467.3,544.0 490.2,544.4 513.2,542.6 536.1,540.2 559.0,537.6 582.0,534.4 604.9,530.9 627.8,527.9 650.8,525.6 673.7,526.0 673.7,550.5 650.8,550.7 627.8,551.8 604.9,553.0 582.0,554.2 559.0,554.7 536.1,555.2 513.2,555.7 490.2,555.9 467.3,555.9 444.4,555.6 421.4,554.9 398.5,552.8 375.6,548.9 352.7,544.8 329.7,539.6 306.8,531.5 283.9,524.3 260.9,514.4 238.0,507.4 215.1,500.2 192.2,496.2 169.2,497.6 146.3,501.7 123.4,507.8 100.4,514.0 77.5,521.4"/></clipPath>
<polygon points="77.5,443.6 100.4,426.1 123.4,413.6 146.3,403.1 169.2,398.1 192.2,400.5 215.1,410.1 238.0,429.4 260.9,445.8 283.9,467.7 306.8,485.0 329.7,503.5 352.7,517.0 375.6,527.4 398.5,535.6 421.4,540.9 444.4,544.0 467.3,544.0 490.2,544.4 513.2,542.6 536.1,540.2 559.0,537.6 582.0,534.4 604.9,530.9 627.8,527.9 650.8,525.6 673.7,526.0 673.7,550.5 650.8,550.7 627.8,551.8 604.9,553.0 582.0,554.2 559.0,554.7 536.1,555.2 513.2,555.7 490.2,555.9 467.3,555.9 444.4,555.6 421.4,554.9 398.5,552.8 375.6,548.9 352.7,544.8 329.7,539.6 306.8,531.5 283.9,524.3 260.9,514.4 238.0,507.4 215.1,500.2 192.2,496.2 169.2,497.6 146.3,501.7 123.4,507.8 100.4,514.0 77.5,521.4" fill="#35bbf5"/>
<polygon points="77.5,506.7 100.4,498.6 123.4,492.1 146.3,485.9 169.2,483.2 192.2,482.4 215.1,488.6 238.0,498.0 260.9,506.7 283.9,517.7 306.8,526.5 329.7,535.2 352.7,541.6 375.6,546.7 398.5,551.0 421.4,553.1 444.4,554.2 467.3,554.2 490.2,554.2 513.2,553.7 536.1,552.4 559.0,550.7 582.0,549.3 604.9,547.5 627.8,546.3 650.8,545.3 673.7,545.3 673.7,558.9 650.8,558.9 627.8,558.9 604.9,558.9 582.0,559.0 559.0,559.2 536.1,559.5 513.2,559.9 490.2,560.1 467.3,560.1 444.4,559.8 421.4,559.4 398.5,558.9 375.6,558.0 352.7,557.5 329.7,556.9 306.8,555.6 283.9,554.3 260.9,552.7 238.0,551.2 215.1,549.4 192.2,547.9 169.2,548.4 146.3,549.4 123.4,550.8 100.4,552.1 77.5,553.4" fill="#98d158"/>
<polygon points="77.5,506.7 100.4,498.6 123.4,492.1 146.3,485.9 169.2,483.2 192.2,482.4 215.1,488.6 238.0,498.0 260.9,506.7 283.9,517.7 306.8,526.5 329.7,535.2 352.7,541.6 375.6,546.7 398.5,551.0 421.4,553.1 444.4,554.2 467.3,554.2 490.2,554.2 513.2,553.7 536.1,552.4 559.0,550.7 582.0,549.3 604.9,547.5 627.8,546.3 650.8,545.3 673.7,545.3 673.7,558.9 650.8,558.9 627.8,558.9 604.9,558.9 582.0,559.0 559.0,559.2 536.1,559.5 513.2,559.9 490.2,560.1 467.3,560.1 444.4,559.8 421.4,559.4 398.5,558.9 375.6,558.0 352.7,557.5 329.7,556.9 306.8,555.6 283.9,554.3 260.9,552.7 238.0,551.2 215.1,549.4 192.2,547.9 169.2,548.4 146.3,549.4 123.4,550.8 100.4,552.1 77.5,553.4" fill="#229c58" clip-path="url(#cpc)"/>
<line x1="66.6" x2="684.5" y1="404.4" y2="404.4" stroke="#4a4040" stroke-opacity="0.36" stroke-width="1.1"/>
<text class="yl" transform="translate(54.9,407.8) scale(1.14,1)">40K</text>
<line x1="66.6" x2="684.5" y1="443.9" y2="443.9" stroke="#4a4040" stroke-opacity="0.36" stroke-width="1.1"/>
<text class="yl" transform="translate(54.9,447.3) scale(1.14,1)">30K</text>
<line x1="66.6" x2="684.5" y1="483.1" y2="483.1" stroke="#4a4040" stroke-opacity="0.36" stroke-width="1.1"/>
<text class="yl" transform="translate(54.9,486.5) scale(1.14,1)">20K</text>
<line x1="66.6" x2="684.5" y1="522.8" y2="522.8" stroke="#4a4040" stroke-opacity="0.36" stroke-width="1.1"/>
<text class="yl" transform="translate(54.9,526.2) scale(1.14,1)">10K</text>
<text class="yl" transform="translate(54.9,566.0) scale(1.14,1)">0</text>
<line x1="65.5" x2="684.5" y1="562.0" y2="562.0" stroke="#8c9fbb" stroke-width="1.1"/>
<line x1="66.0" x2="66.0" y1="562.0" y2="568.0" stroke="#8c9fbb" stroke-width="1.1"/>
<line x1="89.0" x2="89.0" y1="562.0" y2="568.0" stroke="#8c9fbb" stroke-width="1.1"/>
<line x1="111.9" x2="111.9" y1="562.0" y2="568.0" stroke="#8c9fbb" stroke-width="1.1"/>
<line x1="134.8" x2="134.8" y1="562.0" y2="568.0" stroke="#8c9fbb" stroke-width="1.1"/>
<line x1="157.8" x2="157.8" y1="562.0" y2="568.0" stroke="#8c9fbb" stroke-width="1.1"/>
<line x1="180.7" x2="180.7" y1="562.0" y2="568.0" stroke="#8c9fbb" stroke-width="1.1"/>
<line x1="203.6" x2="203.6" y1="562.0" y2="568.0" stroke="#8c9fbb" stroke-width="1.1"/>
<line x1="226.5" x2="226.5" y1="562.0" y2="568.0" stroke="#8c9fbb" stroke-width="1.1"/>
<line x1="249.5" x2="249.5" y1="562.0" y2="568.0" stroke="#8c9fbb" stroke-width="1.1"/>
<line x1="272.4" x2="272.4" y1="562.0" y2="568.0" stroke="#8c9fbb" stroke-width="1.1"/>
<line x1="295.3" x2="295.3" y1="562.0" y2="568.0" stroke="#8c9fbb" stroke-width="1.1"/>
<line x1="318.3" x2="318.3" y1="562.0" y2="568.0" stroke="#8c9fbb" stroke-width="1.1"/>
<line x1="341.2" x2="341.2" y1="562.0" y2="568.0" stroke="#8c9fbb" stroke-width="1.1"/>
<line x1="364.1" x2="364.1" y1="562.0" y2="568.0" stroke="#8c9fbb" stroke-width="1.1"/>
<line x1="387.1" x2="387.1" y1="562.0" y2="568.0" stroke="#8c9fbb" stroke-width="1.1"/>
<line x1="410.0" x2="410.0" y1="562.0" y2="568.0" stroke="#8c9fbb" stroke-width="1.1"/>
<line x1="432.9" x2="432.9" y1="562.0" y2="568.0" stroke="#8c9fbb" stroke-width="1.1"/>
<line x1="455.8" x2="455.8" y1="562.0" y2="568.0" stroke="#8c9fbb" stroke-width="1.1"/>
<line x1="478.8" x2="478.8" y1="562.0" y2="568.0" stroke="#8c9fbb" stroke-width="1.1"/>
<line x1="501.7" x2="501.7" y1="562.0" y2="568.0" stroke="#8c9fbb" stroke-width="1.1"/>
<line x1="524.6" x2="524.6" y1="562.0" y2="568.0" stroke="#8c9fbb" stroke-width="1.1"/>
<line x1="547.6" x2="547.6" y1="562.0" y2="568.0" stroke="#8c9fbb" stroke-width="1.1"/>
<line x1="570.5" x2="570.5" y1="562.0" y2="568.0" stroke="#8c9fbb" stroke-width="1.1"/>
<line x1="593.4" x2="593.4" y1="562.0" y2="568.0" stroke="#8c9fbb" stroke-width="1.1"/>
<line x1="616.4" x2="616.4" y1="562.0" y2="568.0" stroke="#8c9fbb" stroke-width="1.1"/>
<line x1="639.3" x2="639.3" y1="562.0" y2="568.0" stroke="#8c9fbb" stroke-width="1.1"/>
<line x1="662.2" x2="662.2" y1="562.0" y2="568.0" stroke="#8c9fbb" stroke-width="1.1"/>
<text class="xl" transform="translate(80.4,572.4) scale(1.2,1) rotate(-45)">1990</text>
<text class="xl" transform="translate(103.3,572.4) scale(1.2,1) rotate(-45)">1991</text>
<text class="xl" transform="translate(126.3,572.4) scale(1.2,1) rotate(-45)">1992</text>
<text class="xl" transform="translate(149.2,572.4) scale(1.2,1) rotate(-45)">1993</text>
<text class="xl" transform="translate(172.1,572.4) scale(1.2,1) rotate(-45)">1994</text>
<text class="xl" transform="translate(195.1,572.4) scale(1.2,1) rotate(-45)">1995</text>
<text class="xl" transform="translate(218.0,572.4) scale(1.2,1) rotate(-45)">1996</text>
<text class="xl" transform="translate(240.9,572.4) scale(1.2,1) rotate(-45)">1997</text>
<text class="xl" transform="translate(263.8,572.4) scale(1.2,1) rotate(-45)">1998</text>
<text class="xl" transform="translate(286.8,572.4) scale(1.2,1) rotate(-45)">1999</text>
<text class="xl" transform="translate(309.7,572.4) scale(1.2,1) rotate(-45)">2000</text>
<text class="xl" transform="translate(332.6,572.4) scale(1.2,1) rotate(-45)">2001</text>
<text class="xl" transform="translate(355.6,572.4) scale(1.2,1) rotate(-45)">2002</text>
<text class="xl" transform="translate(378.5,572.4) scale(1.2,1) rotate(-45)">2003</text>
<text class="xl" transform="translate(401.4,572.4) scale(1.2,1) rotate(-45)">2004</text>
<text class="xl" transform="translate(424.3,572.4) scale(1.2,1) rotate(-45)">2005</text>
<text class="xl" transform="translate(447.3,572.4) scale(1.2,1) rotate(-45)">2006</text>
<text class="xl" transform="translate(470.2,572.4) scale(1.2,1) rotate(-45)">2007</text>
<text class="xl" transform="translate(493.1,572.4) scale(1.2,1) rotate(-45)">2008</text>
<text class="xl" transform="translate(516.1,572.4) scale(1.2,1) rotate(-45)">2009</text>
<text class="xl" transform="translate(539.0,572.4) scale(1.2,1) rotate(-45)">2010</text>
<text class="xl" transform="translate(561.9,572.4) scale(1.2,1) rotate(-45)">2011</text>
<text class="xl" transform="translate(584.9,572.4) scale(1.2,1) rotate(-45)">2012</text>
<text class="xl" transform="translate(607.8,572.4) scale(1.2,1) rotate(-45)">2013</text>
<text class="xl" transform="translate(630.7,572.4) scale(1.2,1) rotate(-45)">2014</text>
<text class="xl" transform="translate(653.6,572.4) scale(1.2,1) rotate(-45)">2015</text>
<text class="xl" transform="translate(676.6,572.4) scale(1.2,1) rotate(-45)">2016</text>
<polyline points="77.5,486.1 100.4,471.0 123.4,459.0 146.3,448.2 169.2,443.2 192.2,443.0 215.1,449.1 238.0,462.3 260.9,475.7 283.9,492.5 306.8,506.1 329.7,520.3 352.7,530.6 375.6,537.6 398.5,544.4 421.4,547.2 444.4,549.3 467.3,550.0 490.2,550.5 513.2,549.8 536.1,548.1 559.0,546.5 582.0,544.0 604.9,541.8 627.8,539.3 650.8,538.1 673.7,538.3" fill="none" stroke="#0a3f9c" stroke-width="1.9" stroke-linejoin="round"/>
<circle cx="77.5" cy="486.1" r="3.0" fill="#a0e8ff" stroke="#0a3f9c" stroke-width="2.1"/>
<circle cx="100.4" cy="471.0" r="3.0" fill="#a0e8ff" stroke="#0a3f9c" stroke-width="2.1"/>
<circle cx="123.4" cy="459.0" r="3.0" fill="#a0e8ff" stroke="#0a3f9c" stroke-width="2.1"/>
<circle cx="146.3" cy="448.2" r="3.0" fill="#a0e8ff" stroke="#0a3f9c" stroke-width="2.1"/>
<circle cx="169.2" cy="443.2" r="3.0" fill="#a0e8ff" stroke="#0a3f9c" stroke-width="2.1"/>
<circle cx="192.2" cy="443.0" r="3.0" fill="#a0e8ff" stroke="#0a3f9c" stroke-width="2.1"/>
<circle cx="215.1" cy="449.1" r="3.0" fill="#a0e8ff" stroke="#0a3f9c" stroke-width="2.1"/>
<circle cx="238.0" cy="462.3" r="3.0" fill="#a0e8ff" stroke="#0a3f9c" stroke-width="2.1"/>
<circle cx="260.9" cy="475.7" r="3.0" fill="#a0e8ff" stroke="#0a3f9c" stroke-width="2.1"/>
<circle cx="283.9" cy="492.5" r="3.0" fill="#a0e8ff" stroke="#0a3f9c" stroke-width="2.1"/>
<circle cx="306.8" cy="506.1" r="3.0" fill="#a0e8ff" stroke="#0a3f9c" stroke-width="2.1"/>
<circle cx="329.7" cy="520.3" r="3.0" fill="#a0e8ff" stroke="#0a3f9c" stroke-width="2.1"/>
<circle cx="352.7" cy="530.6" r="3.0" fill="#a0e8ff" stroke="#0a3f9c" stroke-width="2.1"/>
<circle cx="375.6" cy="537.6" r="3.0" fill="#a0e8ff" stroke="#0a3f9c" stroke-width="2.1"/>
<circle cx="398.5" cy="544.4" r="3.0" fill="#a0e8ff" stroke="#0a3f9c" stroke-width="2.1"/>
<circle cx="421.4" cy="547.2" r="3.0" fill="#a0e8ff" stroke="#0a3f9c" stroke-width="2.1"/>
<circle cx="444.4" cy="549.3" r="3.0" fill="#a0e8ff" stroke="#0a3f9c" stroke-width="2.1"/>
<circle cx="467.3" cy="550.0" r="3.0" fill="#a0e8ff" stroke="#0a3f9c" stroke-width="2.1"/>
<circle cx="490.2" cy="550.5" r="3.0" fill="#a0e8ff" stroke="#0a3f9c" stroke-width="2.1"/>
<circle cx="513.2" cy="549.8" r="3.0" fill="#a0e8ff" stroke="#0a3f9c" stroke-width="2.1"/>
<circle cx="536.1" cy="548.1" r="3.0" fill="#a0e8ff" stroke="#0a3f9c" stroke-width="2.1"/>
<circle cx="559.0" cy="546.5" r="3.0" fill="#a0e8ff" stroke="#0a3f9c" stroke-width="2.1"/>
<circle cx="582.0" cy="544.0" r="3.0" fill="#a0e8ff" stroke="#0a3f9c" stroke-width="2.1"/>
<circle cx="604.9" cy="541.8" r="3.0" fill="#a0e8ff" stroke="#0a3f9c" stroke-width="2.1"/>
<circle cx="627.8" cy="539.3" r="3.0" fill="#a0e8ff" stroke="#0a3f9c" stroke-width="2.1"/>
<circle cx="650.8" cy="538.1" r="3.0" fill="#a0e8ff" stroke="#0a3f9c" stroke-width="2.1"/>
<circle cx="673.7" cy="538.3" r="3.0" fill="#a0e8ff" stroke="#0a3f9c" stroke-width="2.1"/>
<polyline points="77.5,527.1 100.4,520.5 123.4,514.9 146.3,509.4 169.2,506.3 192.2,505.2 215.1,508.5 238.0,515.1 260.9,521.4 283.9,529.3 306.8,536.3 329.7,542.9 352.7,547.2 375.6,551.0 398.5,554.0 421.4,555.4 444.4,556.3 467.3,556.3 490.2,556.6 513.2,556.3 536.1,555.6 559.0,554.9 582.0,553.7 604.9,552.6 627.8,551.9 650.8,551.4 673.7,551.4" fill="none" stroke="#10600a" stroke-width="1.7" stroke-linejoin="round"/>
<polygon points="74.7,527.1 77.5,524.3 80.3,527.1 77.5,529.9" fill="#8fe238" stroke="#10600a" stroke-width="1.6" stroke-linejoin="round"/>
<polygon points="97.6,520.5 100.4,517.7 103.2,520.5 100.4,523.3" fill="#8fe238" stroke="#10600a" stroke-width="1.6" stroke-linejoin="round"/>
<polygon points="120.6,514.9 123.4,512.1 126.2,514.9 123.4,517.7" fill="#8fe238" stroke="#10600a" stroke-width="1.6" stroke-linejoin="round"/>
<polygon points="143.5,509.4 146.3,506.6 149.1,509.4 146.3,512.2" fill="#8fe238" stroke="#10600a" stroke-width="1.6" stroke-linejoin="round"/>
<polygon points="166.4,506.3 169.2,503.5 172.0,506.3 169.2,509.1" fill="#8fe238" stroke="#10600a" stroke-width="1.6" stroke-linejoin="round"/>
<polygon points="189.3,505.2 192.2,502.4 195.0,505.2 192.2,508.0" fill="#8fe238" stroke="#10600a" stroke-width="1.6" stroke-linejoin="round"/>
<polygon points="212.3,508.5 215.1,505.7 217.9,508.5 215.1,511.3" fill="#8fe238" stroke="#10600a" stroke-width="1.6" stroke-linejoin="round"/>
<polygon points="235.2,515.1 238.0,512.3 240.8,515.1 238.0,517.9" fill="#8fe238" stroke="#10600a" stroke-width="1.6" stroke-linejoin="round"/>
<polygon points="258.1,521.4 260.9,518.6 263.7,521.4 260.9,524.2" fill="#8fe238" stroke="#10600a" stroke-width="1.6" stroke-linejoin="round"/>
<polygon points="281.1,529.3 283.9,526.5 286.7,529.3 283.9,532.1" fill="#8fe238" stroke="#10600a" stroke-width="1.6" stroke-linejoin="round"/>
<polygon points="304.0,536.3 306.8,533.5 309.6,536.3 306.8,539.1" fill="#8fe238" stroke="#10600a" stroke-width="1.6" stroke-linejoin="round"/>
<polygon points="326.9,542.9 329.7,540.1 332.5,542.9 329.7,545.7" fill="#8fe238" stroke="#10600a" stroke-width="1.6" stroke-linejoin="round"/>
<polygon points="349.9,547.2 352.7,544.4 355.5,547.2 352.7,550.0" fill="#8fe238" stroke="#10600a" stroke-width="1.6" stroke-linejoin="round"/>
<polygon points="372.8,551.0 375.6,548.2 378.4,551.0 375.6,553.8" fill="#8fe238" stroke="#10600a" stroke-width="1.6" stroke-linejoin="round"/>
<polygon points="395.7,554.0 398.5,551.2 401.3,554.0 398.5,556.8" fill="#8fe238" stroke="#10600a" stroke-width="1.6" stroke-linejoin="round"/>
<polygon points="418.6,555.4 421.4,552.6 424.2,555.4 421.4,558.2" fill="#8fe238" stroke="#10600a" stroke-width="1.6" stroke-linejoin="round"/>
<polygon points="441.6,556.3 444.4,553.5 447.2,556.3 444.4,559.1" fill="#8fe238" stroke="#10600a" stroke-width="1.6" stroke-linejoin="round"/>
<polygon points="464.5,556.3 467.3,553.5 470.1,556.3 467.3,559.1" fill="#8fe238" stroke="#10600a" stroke-width="1.6" stroke-linejoin="round"/>
<polygon points="487.4,556.6 490.2,553.8 493.0,556.6 490.2,559.4" fill="#8fe238" stroke="#10600a" stroke-width="1.6" stroke-linejoin="round"/>
<polygon points="510.4,556.3 513.2,553.5 516.0,556.3 513.2,559.1" fill="#8fe238" stroke="#10600a" stroke-width="1.6" stroke-linejoin="round"/>
<polygon points="533.3,555.6 536.1,552.8 538.9,555.6 536.1,558.4" fill="#8fe238" stroke="#10600a" stroke-width="1.6" stroke-linejoin="round"/>
<polygon points="556.2,554.9 559.0,552.1 561.8,554.9 559.0,557.7" fill="#8fe238" stroke="#10600a" stroke-width="1.6" stroke-linejoin="round"/>
<polygon points="579.2,553.7 582.0,550.9 584.8,553.7 582.0,556.5" fill="#8fe238" stroke="#10600a" stroke-width="1.6" stroke-linejoin="round"/>
<polygon points="602.1,552.6 604.9,549.8 607.7,552.6 604.9,555.4" fill="#8fe238" stroke="#10600a" stroke-width="1.6" stroke-linejoin="round"/>
<polygon points="625.0,551.9 627.8,549.1 630.6,551.9 627.8,554.7" fill="#8fe238" stroke="#10600a" stroke-width="1.6" stroke-linejoin="round"/>
<polygon points="648.0,551.4 650.8,548.6 653.5,551.4 650.8,554.2" fill="#8fe238" stroke="#10600a" stroke-width="1.6" stroke-linejoin="round"/>
<polygon points="670.9,551.4 673.7,548.6 676.5,551.4 673.7,554.2" fill="#8fe238" stroke="#10600a" stroke-width="1.6" stroke-linejoin="round"/>
<text class="pl" x="0" y="411.3">c</text>
<text class="num" transform="translate(15.6,463.8) rotate(-90) scale(0.87,1)">Number</text>
<line x1="69" x2="685" y1="590.5" y2="590.5" stroke="#4a4040" stroke-opacity="0.36" stroke-width="1.1"/>
<text class="yl" transform="translate(57.4,594.4) scale(1.14,1)">8K</text>
<line x1="228" x2="240.3" y1="613.5" y2="613.5" stroke="#0a3f9c" stroke-width="1.9"/><circle cx="234.0" cy="613.5" r="3.0" fill="#a0e8ff" stroke="#0a3f9c" stroke-width="2.1"/>
<text class="lg" x="244.6" y="617">Females</text>
<line x1="367.5" x2="379.4" y1="613.5" y2="613.5" stroke="#10600a" stroke-width="1.7"/><polygon points="370.6,613.5 373.4,610.7 376.2,613.5 373.4,616.3" fill="#8fe238" stroke="#10600a" stroke-width="1.6" stroke-linejoin="round"/>
<text class="lg" x="384" y="617">Males</text>
<text class="ser" x="527.3" y="611.5">K=1000</text>
<text class="ser" x="600.1" y="613.6">M=1000000</text>
</g></svg></body></html>
